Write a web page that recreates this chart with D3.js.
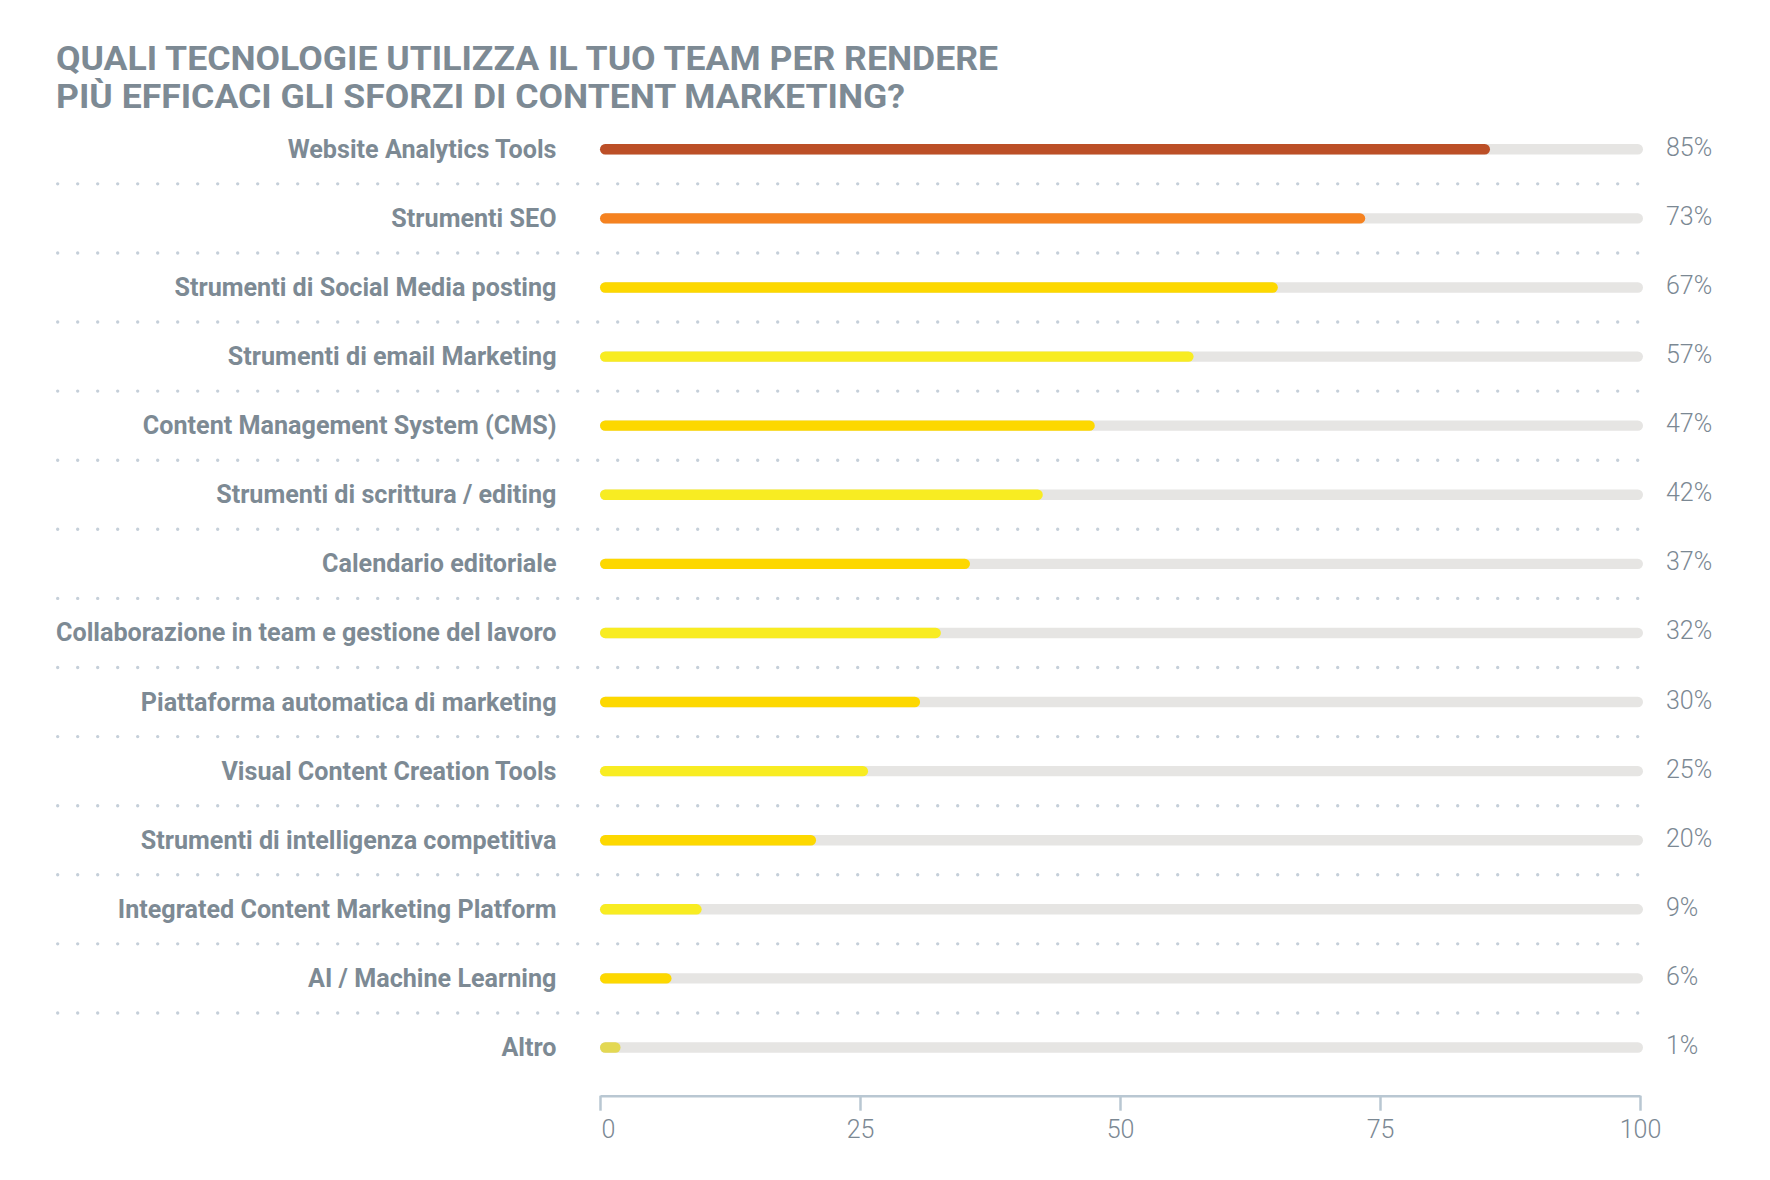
<!DOCTYPE html>
<html>
<head>
<meta charset="utf-8">
<script src="https://cdn.jsdelivr.net/npm/d3@7"></script>
<style>
  html, body { margin: 0; padding: 0; background: #ffffff; }
  svg { display: block; }
</style>
</head>
<body>
<svg id="chart" width="1770" height="1180"></svg>
<script>
const titleLines = [
  "QUALI TECNOLOGIE UTILIZZA IL TUO TEAM PER RENDERE",
  "PIÙ EFFICACI GLI SFORZI DI CONTENT MARKETING?"
];
const categories = [
  "Website Analytics Tools",
  "Strumenti SEO",
  "Strumenti di Social Media posting",
  "Strumenti di email Marketing",
  "Content Management System (CMS)",
  "Strumenti di scrittura / editing",
  "Calendario editoriale",
  "Collaborazione in team e gestione del lavoro",
  "Piattaforma automatica di marketing",
  "Visual Content Creation Tools",
  "Strumenti di intelligenza competitiva",
  "Integrated Content Marketing Platform",
  "AI / Machine Learning",
  "Altro"
];
// bar lengths as drawn in the picture
const barValues = [85, 73, 64.6, 56.5, 47, 42, 35, 32.2, 30.2, 25.2, 20.2, 9.2, 6.3, 1.4];
// printed value labels
const valueLabels = ["85%", "73%", "67%", "57%", "47%", "42%", "37%", "32%", "30%", "25%", "20%", "9%", "6%", "1%"];
const tickValues = [0, 25, 50, 75, 100];
const barColors = ["#bc4f27", "#f58220", "#fdd800", "#f8ec22", "#fdd800", "#f8ec22", "#fdd800",
                   "#f8ec22", "#fdd800", "#f8ec22", "#fdd800", "#f8ec22", "#fdd800", "#e3d853"];

const svg = d3.select("#chart");
const textColor = "#7d8a94";
const FONT = "Roboto, 'Open Sans', sans-serif";

const x = d3.scaleLinear().domain([0, 100]).range([600, 1640]);
const y = d3.scalePoint().domain(categories).range([149.3, 1047.5]);
const barH = 10.4;

// Title
const titleWidths = [942, 849];
svg.append("g").selectAll("text").data(titleLines).join("text")
  .attr("x", 56)
  .attr("y", (d, i) => 69.5 + i * 38)
  .attr("font-family", FONT)
  .attr("font-weight", 700)
  .attr("font-size", 34)
  .attr("fill", textColor)
  .attr("textLength", (d, i) => titleWidths[i])
  .attr("lengthAdjust", "spacingAndGlyphs")
  .text(d => d);

// dotted separators
const seps = d3.range(categories.length - 1).map(i => (y(categories[i]) + y(categories[i + 1])) / 2);
svg.append("g").selectAll("line").data(seps).join("line")
  .attr("x1", 57.7).attr("x2", 1638)
  .attr("y1", d => d).attr("y2", d => d)
  .attr("stroke", "#c5cfd9")
  .attr("stroke-width", 3.4)
  .attr("stroke-linecap", "round")
  .attr("stroke-dasharray", "0 20");

// tracks
svg.append("g").selectAll("rect").data(categories).join("rect")
  .attr("x", x(0))
  .attr("y", d => y(d) - barH / 2)
  .attr("width", x(100) - x(0) + 3)
  .attr("height", barH)
  .attr("rx", barH / 2)
  .attr("fill", "#e6e5e3");

// bars
svg.append("g").selectAll("rect").data(barValues).join("rect")
  .attr("x", x(0))
  .attr("y", (d, i) => y(categories[i]) - barH / 2)
  .attr("width", d => x(d) - x(0) + 6)
  .attr("height", barH)
  .attr("rx", barH / 2)
  .attr("fill", (d, i) => barColors[i]);

// category labels
const labels = svg.append("g").selectAll("text").data(categories).join("text")
  .attr("x", 556.5)
  .attr("y", d => y(d) + 8.5)
  .attr("text-anchor", "end")
  .attr("font-family", FONT)
  .attr("font-weight", 700)
  .attr("font-size", 26)
  .attr("fill", textColor)
  .text(d => d);
// condense uniformly so the longest label spans its width in the picture
const longest = labels.filter((d, i) => i === 7).node().getComputedTextLength();
const factor = 500.5 / longest;
labels.each(function () {
  const w = this.getComputedTextLength();
  d3.select(this).attr("textLength", w * factor).attr("lengthAdjust", "spacingAndGlyphs");
});

// value labels
svg.append("g").selectAll("text").data(valueLabels).join("text")
  .attr("x", 1666)
  .attr("y", (d, i) => y(categories[i]) + 6.5)
  .attr("font-family", FONT)
  .attr("font-weight", 300)
  .attr("font-size", 25)
  .attr("fill", "#7b8893")
  .text(d => d);

// axis
const axis = svg.append("g")
  .attr("transform", "translate(0,1095.7)")
  .call(d3.axisBottom(x).tickValues(tickValues).tickSize(15).tickSizeOuter(0).tickPadding(10).tickFormat(d3.format("d")));
axis.select(".domain").attr("stroke", "#b9c7d2").attr("stroke-width", 2.5);
axis.selectAll(".tick line").attr("stroke", "#b9c7d2").attr("stroke-width", 2.5);
axis.selectAll(".tick text")
  .attr("font-family", FONT)
  .attr("font-weight", 300)
  .attr("font-size", 25)
  .attr("fill", "#7b8893");
axis.selectAll(".tick text").filter(d => d === 0).attr("text-anchor", "start").attr("x", 1);
</script>
</body>
</html>
